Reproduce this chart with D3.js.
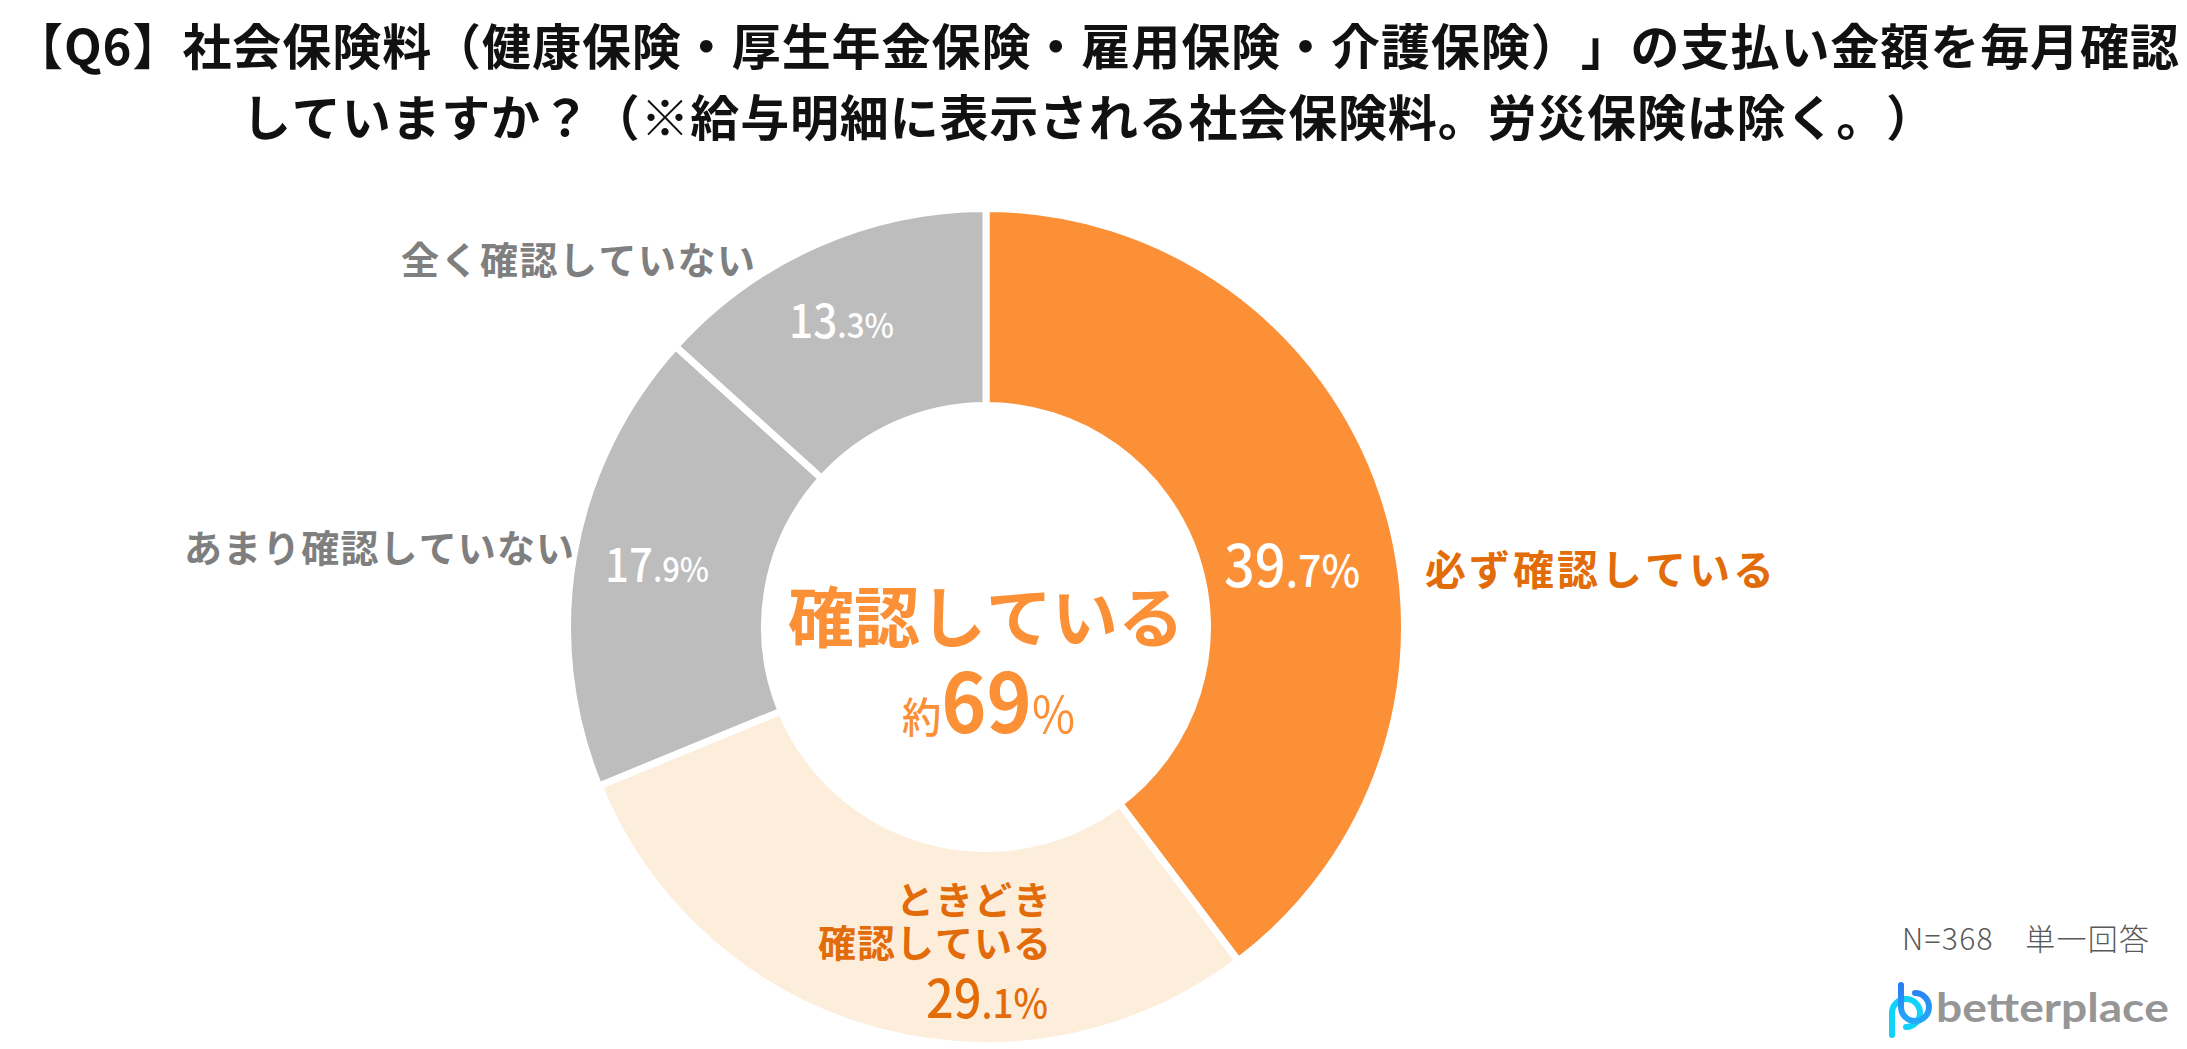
<!DOCTYPE html>
<html lang="ja">
  <head>
    <meta charset="utf-8" />
    <title>Q6</title>
    <style>
      html, body { margin: 0; padding: 0; background: #fff; }
      svg { display: block; }
      text {
        font-family: "Noto Sans CJK JP", "Noto Sans", sans-serif;
        text-spacing-trim: space-all;
        font-kerning: none;
      }
    </style>
  </head>
  <body>
    <script src="https://d3js.org/d3.v7.min.js"></script>
    <div id="my_dataviz"></div>

    <script>
      // data
      const categories = ["必ず確認している", "ときどき確認している", "あまり確認していない", "全く確認していない"];
      const values = [39.7, 29.1, 17.9, 13.3];
      const titleLines = [
        "【Q6】社会保険料（健康保険・厚生年金保険・雇用保険・介護保険）」の支払い金額を毎月確認",
        "していますか？（※給与明細に表示される社会保険料。労災保険は除く。）"
      ];
      const centerLabel = "確認している";
      const centerValue = ["約", "69", "%"];
      const note = "N=368　単一回答";

      const width = 2187, height = 1049;
      const cx = 986, cy = 627, outer = 418.5, inner = 221.5;

      const colors = ["#fb9037", "#fdeedc", "#bdbdbd", "#bdbdbd"];
      const orangeText = "#e36c0a", greyText = "#7f7f7f";

      const svg = d3.select("#my_dataviz").append("svg")
        .attr("width", width).attr("height", height);

      // title
      svg.selectAll(".title").data(titleLines).join("text")
        .attr("class", "title")
        .attr("x", (d, i) => (i === 0 ? 14 : 242))
        .attr("y", (d, i) => (i === 0 ? 65 : 136))
        .attr("font-size", 49)
        .attr("font-weight", 700)
        .attr("fill", "#111")
        .attr("textLength", (d, i) => (i === 0 ? 2165 : 1693))
        .attr("lengthAdjust", "spacing")
        .text(d => d);

      // donut
      const pie = d3.pie().value(d => d).sort(null);
      const arc = d3.arc().innerRadius(inner).outerRadius(outer);
      const chart = svg.append("g").attr("transform", `translate(${cx},${cy})`);

      chart.selectAll("path").data(pie(values)).join("path")
        .attr("d", arc)
        .attr("fill", (d, i) => colors[i])
        .attr("stroke", "#fff")
        .attr("stroke-width", 7);

      // value labels, big whole part and small decimals
      const valuePos = [
        { x: 1224, y: 587, len: 136, big: 58, small: 44, fill: "#fff" },
        { x: 926, y: 1018, len: 122, big: 53, small: 40, fill: orangeText },
        { x: 605, y: 582, len: 104, big: 46, small: 34, fill: "#fff" },
        { x: 789, y: 338, len: 105, big: 46, small: 34, fill: "#fff" }
      ];
      const valueLabels = svg.selectAll(".value").data(values).join("text")
        .attr("class", "value")
        .attr("x", (d, i) => valuePos[i].x)
        .attr("y", (d, i) => valuePos[i].y)
        .attr("textLength", (d, i) => valuePos[i].len)
        .attr("lengthAdjust", "spacingAndGlyphs")
        .attr("font-weight", 500)
        .attr("fill", (d, i) => valuePos[i].fill);
      valueLabels.append("tspan")
        .attr("font-size", (d, i) => valuePos[i].big)
        .text(d => Math.floor(d));
      valueLabels.append("tspan")
        .attr("font-size", (d, i) => valuePos[i].small)
        .text(d => d.toFixed(1).slice(-2) + "%");

      // category labels
      const catPos = [
        { x: 1425, y: [585], len: 349, size: 41, anchor: "start", fill: orangeText, lines: [categories[0]] },
        { x: 1052, y: [914, 957], len: null, size: 38, anchor: "end", fill: orangeText,
          lines: [categories[1].slice(0, 4), categories[1].slice(4)] },
        { x: 184, y: [562], len: 390, size: 38, anchor: "start", fill: greyText, lines: [categories[2]] },
        { x: 401, y: [274], len: 354, size: 38, anchor: "start", fill: greyText, lines: [categories[3]] }
      ];
      catPos.forEach(c => {
        c.lines.forEach((line, j) => {
          const t = svg.append("text")
            .attr("x", c.x).attr("y", c.y[j])
            .attr("text-anchor", c.anchor)
            .attr("font-size", c.size)
            .attr("font-weight", 700)
            .attr("letter-spacing", c.len ? null : 1)
            .attr("fill", c.fill)
            .text(line);
          if (c.len) t.attr("textLength", c.len);
        });
      });

      // centre text
      svg.append("text")
        .attr("x", cx).attr("y", 642)
        .attr("text-anchor", "middle")
        .attr("font-size", 66)
        .attr("font-weight", 700)
        .attr("fill", "#fb9037")
        .text(centerLabel);
      const total = svg.append("text")
        .attr("x", 902).attr("y", 733)
        .attr("textLength", 173)
        .attr("lengthAdjust", "spacingAndGlyphs")
        .attr("font-weight", 500)
        .attr("fill", "#fb9037");
      total.append("tspan").attr("font-size", 42).text(centerValue[0]);
      total.append("tspan").attr("font-size", 82).attr("font-weight", 700).text(centerValue[1]);
      total.append("tspan").attr("font-size", 50).attr("font-weight", 400).text(centerValue[2]);

      // note
      svg.append("text")
        .attr("x", 1902).attr("y", 950)
        .attr("font-size", 30)
        .attr("font-weight", 300)
        .attr("fill", "#595959")
        .attr("textLength", 247)
        .text(note);

      // logo
      const logo = svg.append("g");
      const grad = svg.append("defs").append("linearGradient")
        .attr("id", "logo-gradient")
        .attr("x1", 0).attr("y1", 0).attr("x2", 0).attr("y2", 1);
      grad.append("stop").attr("offset", "0%").attr("stop-color", "#2a7cf2");
      grad.append("stop").attr("offset", "100%").attr("stop-color", "#25a8f8");
      logo.append("path")
        .attr("d", "M1892 1035V1013A14 14 0 1 1 1906 1027")
        .attr("fill", "none")
        .attr("stroke", "#10d2fb")
        .attr("stroke-width", 6)
        .attr("stroke-linecap", "round");
      logo.append("path")
        .attr("d", "M1901 985V1007A14 14 0 1 0 1915 993")
        .attr("fill", "none")
        .attr("stroke", "url(#logo-gradient)")
        .attr("stroke-width", 6)
        .attr("stroke-linecap", "round");
      logo.append("text")
        .attr("x", 1936).attr("y", 1022)
        .attr("font-size", 41)
        .attr("font-weight", 700)
        .attr("fill", "#969696")
        .attr("textLength", 233)
        .attr("lengthAdjust", "spacingAndGlyphs")
        .style("font-family", "Lato")
        .text("betterplace");
    </script>
  </body>
</html>
